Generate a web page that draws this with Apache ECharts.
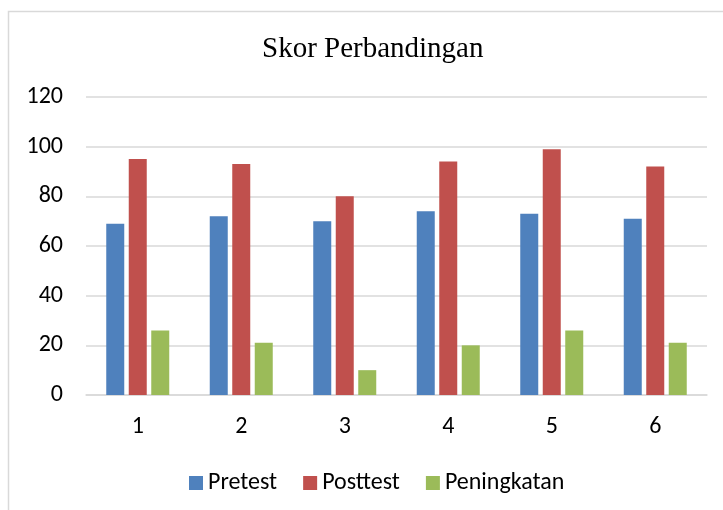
<!DOCTYPE html>
<html>
<head>
<meta charset="utf-8">
<script src="https://cdn.jsdelivr.net/npm/echarts@6/dist/echarts.min.js"></script>
<style>
  html, body { margin: 0; padding: 0; background: #fff; }
  #main { width: 723px; height: 510px; }
</style>
</head>
<body>
<div id="main"></div>
<script>
let categories = ["1", "2", "3", "4", "5", "6"]
let pretest = [69, 72, 70, 74, 73, 71]
let posttest = [95, 93, 80, 94, 99, 92]
let peningkatan = [26, 21, 10, 20, 26, 21]
let yTicks = [0, 20, 40, 60, 80, 100, 120]

let chart = echarts.init(document.getElementById("main"))

let labelFont = "Carlito, 'Open Sans', 'Liberation Sans', sans-serif"

let option = {
    animation: false,
    title: {
        text: "Skor Perbandingan",
        left: 257,
        top: 30,
        textStyle: {
            fontFamily: "'Liberation Serif', serif",
            fontWeight: "normal",
            fontSize: 29,
            color: "#000"
        }
    },
    graphic: [{
        type: "rect",
        shape: {x: 8.5, y: 11.5, width: 730, height: 510},
        style: {fill: "none", stroke: "#d9d9d9", lineWidth: 1.5},
        silent: true
    }],
    legend: {
        top: 466,
        left: 184,
        itemWidth: 14,
        itemHeight: 14,
        itemGap: 26,
        icon: "rect",
        textStyle: {fontFamily: labelFont, fontSize: 24, color: "#000"},
        data: ["Pretest", "Posttest", "Peningkatan"]
    },
    grid: {left: 86, right: 16, top: 97, bottom: 115},
    xAxis: {
        type: "category",
        data: categories,
        axisTick: {show: false},
        axisLine: {lineStyle: {color: "#d9d9d9", width: 1.5}},
        axisLabel: {fontFamily: labelFont, fontSize: 24, color: "#000", margin: 20}
    },
    yAxis: {
        type: "value",
        min: yTicks[0],
        max: yTicks[yTicks.length - 1],
        interval: 20,
        axisLine: {show: false},
        axisTick: {show: false},
        splitLine: {lineStyle: {color: "#d9d9d9", width: 1.5}},
        axisLabel: {fontFamily: labelFont, fontSize: 24, color: "#000", margin: 23}
    },
    series: [{
        name: "Pretest",
        type: "bar",
        data: pretest,
        barWidth: 18,
        barGap: "25%",
        itemStyle: {color: "#4f81bd"}
    }, {
        name: "Posttest",
        type: "bar",
        data: posttest,
        barWidth: 18,
        barGap: "25%",
        itemStyle: {color: "#c0504d"}
    }, {
        name: "Peningkatan",
        type: "bar",
        data: peningkatan,
        barWidth: 18,
        barGap: "25%",
        itemStyle: {color: "#9bbb59"}
    }]
}

chart.setOption(option)
</script>
</body>
</html>
